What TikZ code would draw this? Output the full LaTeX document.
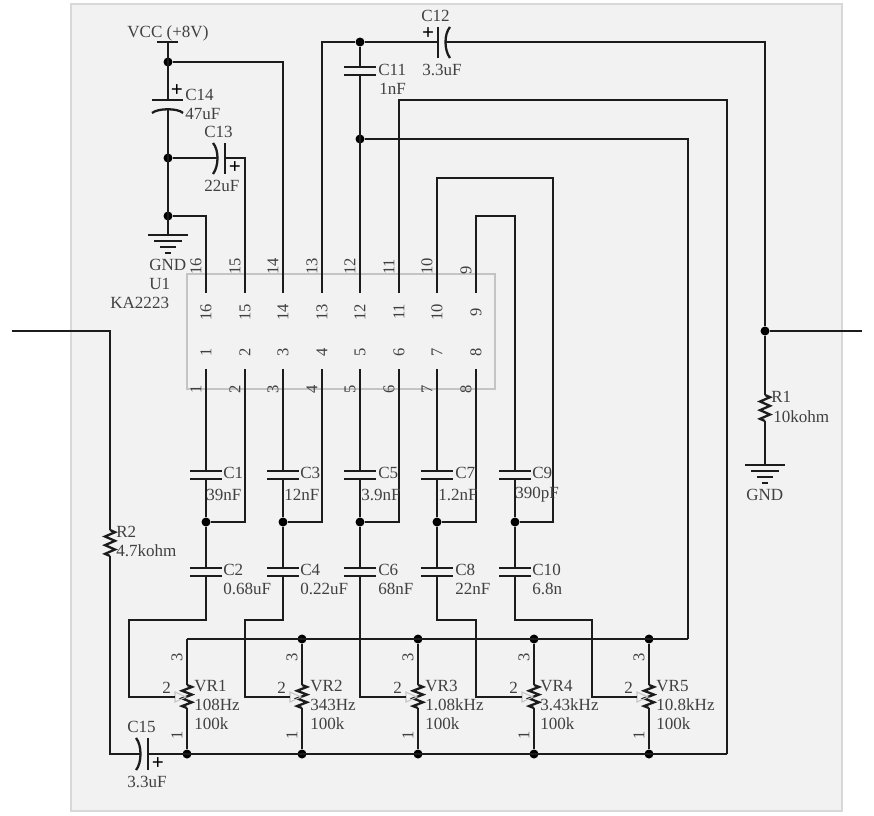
\documentclass[tikz,border=0pt]{standalone}
\usepackage{fontspec}
\setmainfont{Liberation Serif}
\definecolor{sheetfill}{HTML}{F2F2F2}
\definecolor{sheetline}{HTML}{D8D8D8}
\definecolor{icline}{HTML}{C4C4C4}
\definecolor{wirecol}{HTML}{1C1C1C}
\definecolor{textcol}{HTML}{404040}
\begin{document}
\begin{tikzpicture}[x=0.02cm,y=-0.02cm,
    wire/.style={draw=wirecol,line width=1.3pt},
    dot/.style={circle,fill=black,inner sep=0pt,minimum size=0.18cm},
    lbl/.style={anchor=west,inner sep=0pt,text=textcol,font=\fontsize{9.7}{11}\selectfont},
    num/.style={inner sep=0pt,text=textcol,rotate=90,font=\fontsize{9.4}{10}\selectfont},
    plus/.style={inner sep=0pt,text=black,font=\fontsize{12}{12}\selectfont\bfseries}]
  \useasboundingbox (0,0) rectangle (874,815);
  \draw[sheetline,fill=sheetfill,line width=1.1pt] (71,4) rectangle (842,811);
  \draw[icline,line width=0.6pt] (187,274) rectangle (495,389);

  % pins of U1
  \foreach \n/\x in {16/206,15/245,14/283,13/322,12/360,11/399,10/437,9/476} {
    \coordinate (pin\n) at (\x,293);
    \node[num] (in\n) at (\x,312) {\n};
    \node[num,anchor=west] (out\n) at (\x-10,275) {\n};
  }
  \foreach \n/\x in {1/206,2/245,3/283,4/322,5/360,6/399,7/437,8/476} {
    \coordinate (pin\n) at (\x,369);
    \node[num] (in\n) at (\x,352) {\n};
    \node[num] (out\n) at (\x-10,389) {\n};
  }

  % capacitors with flat plates
  \foreach \cn/\cx/\cy in {c1/206/471,c3/283/471,c5/360/471,c7/437/471,c9/515/471,
      c2/206/568,c4/283/568,c6/360/568,c8/437/568,c10/515/568,c11/360/67} {
    \coordinate (\cn a) at (\cx,\cy);
    \coordinate (\cn b) at (\cx,\cy+8);
    \draw[wire] (\cx-16,\cy) -- (\cx+16,\cy);
    \draw[wire] (\cx-16,\cy+8) -- (\cx+16,\cy+8);
  }

  % polarised capacitors
  \coordinate (c14a) at (168,100);
  \coordinate (c14b) at (168,108);
  \draw[wire] (152,100) -- (183,100);
  \draw[wire] (152,113) .. controls (158,108) and (178,108) .. (183,113);
  \coordinate (c13a) at (218,158);
  \coordinate (c13b) at (225,158);
  \draw[wire] (225,143) -- (225,174);
  \draw[wire] (213,143) .. controls (219,150) and (219,166) .. (213,174);
  \coordinate (c12a) at (438,42);
  \coordinate (c12b) at (445,42);
  \draw[wire] (438,27) -- (438,58);
  \draw[wire] (450,27) .. controls (444,34) and (444,50) .. (450,58);
  \coordinate (c15a) at (141,754);
  \coordinate (c15b) at (148,754);
  \draw[wire] (148,738) -- (148,770);
  \draw[wire] (136,738) .. controls (142,745) and (142,763) .. (136,770);
  \node[plus] (p14) at (177,91) {+};
  \node[plus] (p13) at (235,168) {+};
  \node[plus] (p12) at (428,34) {+};
  \node[plus] (p15) at (158,764) {+};

  % resistors and the pots
  \foreach \cn/\cx/\cy/\ch in {vr1/187/685/23,vr2/302/685/23,vr3/418/685/23,vr4/534/685/23,vr5/649/685/23,
      r1/765/395/26,r2/110/530/26} {
    \coordinate (\cn a) at (\cx,\cy);
    \coordinate (\cn b) at (\cx,\cy+\ch);
    \draw[wire] (\cx,\cy) -- (\cx+5,\cy+\ch/12) -- (\cx-5,\cy+\ch*3/12) -- (\cx+5,\cy+\ch*5/12)
      -- (\cx-5,\cy+\ch*7/12) -- (\cx+5,\cy+\ch*9/12) -- (\cx-5,\cy+\ch*11/12) -- (\cx,\cy+\ch);
  }
  \foreach \cn/\cx in {vr1/187,vr2/302,vr3/418,vr4/534,vr5/649} {
    \coordinate (\cn w) at (\cx-12,697);
    \draw[icline,line width=0.6pt] (\cx-12,692) -- (\cx-1,697) -- (\cx-12,702) -- cycle;
    \node[lbl] (\cn two) at (\cx-25,688) {2};
    \node[num] (\cn three) at (\cx-10,657) {3};
    \node[num] (\cn one) at (\cx-10,735) {1};
  }

  % junctions
  \foreach \nm/\dx/\dy in {j1/168/62,j2/168/158,j3/168/216,j4/360/42,j5/360/139,j6/765/331,
      d1/206/522,d3/283/522,d5/360/522,d7/437/522,d9/515/522,
      t2/302/639,t3/418/639,t4/534/639,t5/649/639,
      b1/187/754,b2/302/754,b3/418/754,b4/534/754,b5/649/754} {
    \node[dot] (\nm) at (\dx,\dy) {};
  }
  \coordinate (t1) at (187,639);
  \coordinate (k9) at (515,216);
  \coordinate (k10) at (553,178);
  \coordinate (k11) at (727,100);
  \coordinate (k12) at (688,639);
  \coordinate (k13) at (727,754);
  \coordinate (m1) at (129,620);
  \coordinate (m2) at (245,620);
  \coordinate (m4) at (476,620);
  \coordinate (m5) at (592,620);
  \coordinate (inl) at (12,331);
  \coordinate (outr) at (862,331);
  \coordinate (vcc) at (168,42);

  % supply side
  \draw[wire] (157,42) -- (178,42);
  \draw[wire] (vcc) -- (c14a);
  \draw[wire] (c14b) -- (168,235) coordinate (gnd1);
  \draw[wire] (j1) -| (pin14);
  \draw[wire] (j2) -- (c13a);
  \draw[wire] (c13b) -| (pin15);
  \draw[wire] (j3) -| (pin16);
  \foreach \gx/\gy in {168/235,765/465} {
    \draw[wire] (\gx-20,\gy) -- (\gx+20,\gy);
    \draw[wire] (\gx-14,\gy+6) -- (\gx+14,\gy+6);
    \draw[wire] (\gx-8,\gy+12) -- (\gx+8,\gy+12);
    \draw[wire] (\gx-3,\gy+18) -- (\gx+3,\gy+18);
  }

  % top wires
  \draw[wire] (pin13) |- (j4);
  \draw[wire] (j4) -- (c12a);
  \draw[wire] (c12b) -| (j6);
  \draw[wire] (j6) -- (r1a);
  \draw[wire] (r1b) -- (765,465);
  \draw[wire] (j6) -- (outr);
  \draw[wire] (j4) -- (c11a);
  \draw[wire] (c11b) -- (pin12);
  \draw[wire] (j5) -| (k12);
  \draw[wire] (pin11) |- (k11) -- (k13);
  \draw[wire] (pin10) |- (k10) -- (553,522) -- (d9);
  \draw[wire] (pin9) |- (k9) -- (c9a);

  % filter columns
  \foreach \pa/\pb/\ca/\cb/\dn in {1/2/c1/c2/d1,3/4/c3/c4/d3,5/6/c5/c6/d5,7/8/c7/c8/d7} {
    \draw[wire] (pin\pa) -- (\ca a);
    \draw[wire] (\ca b) -- (\dn);
    \draw[wire] (\dn) -- (\cb a);
    \draw[wire] (pin\pb) |- (\dn);
  }
  \draw[wire] (c9b) -- (d9);
  \draw[wire] (d9) -- (c10a);

  % pot wiring
  \draw[wire] (c2b) |- (m1) |- (vr1w);
  \draw[wire] (c4b) |- (m2) |- (vr2w);
  \draw[wire] (c6b) |- (vr3w);
  \draw[wire] (c8b) |- (m4) |- (vr4w);
  \draw[wire] (c10b) |- (m5) |- (vr5w);
  \draw[wire] (t1) -- (k12);
  \draw[wire] (c15b) -- (k13);
  \foreach \cn/\tn/\bn in {vr1/t1/b1,vr2/t2/b2,vr3/t3/b3,vr4/t4/b4,vr5/t5/b5} {
    \draw[wire] (\tn) -- (\cn a);
    \draw[wire] (\cn b) -- (\bn);
  }
  \draw[wire] (inl) -| (r2a);
  \draw[wire] (r2b) |- (c15a);

  % part labels
  \foreach \nm/\tx/\lx/\ly in {vccl/{VCC (+8V)}/127/33,lc12/C12/421/16,vc12/3.3uF/422/70,lc11/C11/378/70,vc11/1nF/379/89,
      lc14/C14/185/95,vc14/47uF/185/114,lc13/C13/204/132,vc13/22uF/204/186,gl1/GND/149/265,u1/U1/149/284,ka/KA2223/110/303,
      lc1/C1/223/473,vc1/39nF/206/495,lc3/C3/300/473,vc3/12nF/284/495,lc5/C5/378/473,vc5/3.9nF/361/495,
      lc7/C7/455/473,vc7/1.2nF/438/495,lc9/C9/532/473,vc9/390pF/515/495,
      lc2/C2/223/570,vc2/0.68uF/223/589,lc4/C4/300/570,vc4/0.22uF/300/589,lc6/C6/378/570,vc6/68nF/378/589,
      lc8/C8/455/570,vc8/22nF/455/589,lc10/C10/532/570,vc10/6.8n/532/589,
      lvr1/VR1/194/686,fvr1/108Hz/194/705,kvr1/100k/194/724,lvr2/VR2/310/686,fvr2/343Hz/310/705,kvr2/100k/310/724,
      lvr3/VR3/425/686,fvr3/1.08kHz/425/705,kvr3/100k/425/724,lvr4/VR4/540/686,fvr4/3.43kHz/540/705,kvr4/100k/540/724,
      lvr5/VR5/656/686,fvr5/10.8kHz/656/705,kvr5/100k/656/724,
      lc15/C15/127/727,vc15/3.3uF/127/782,lr1/R1/771/397,vr1v/10kohm/773/417,gl2/GND/746/495,lr2/R2/116/532,vr2v/4.7kohm/116/551} {
    \node[lbl] (\nm) at (\lx,\ly) {\tx};
  }
\end{tikzpicture}
\end{document}
